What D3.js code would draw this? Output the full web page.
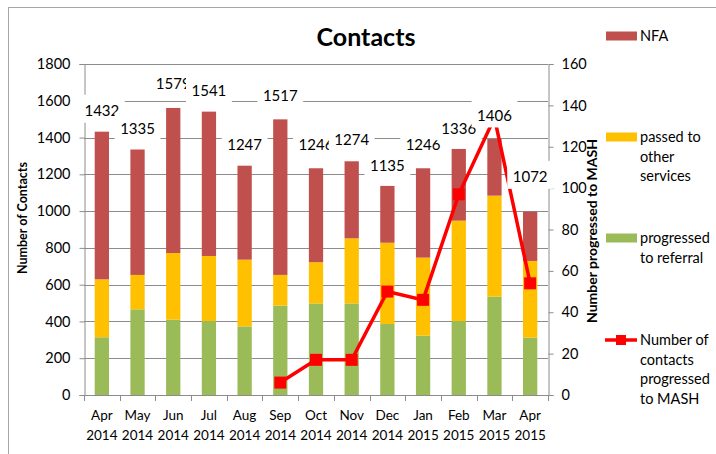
<!DOCTYPE html>
<html>
<head>
<meta charset="utf-8">
<script src="https://cdn.jsdelivr.net/npm/d3@7"></script>
<style>
  body { margin: 0; background: #fff; }
  text { font-family: Lato, "Open Sans", sans-serif; fill: #000; }
</style>
</head>
<body>
<div id="chart"></div>
<script>
// data
let months = ["Apr 2014", "May 2014", "Jun 2014", "Jul 2014", "Aug 2014", "Sep 2014", "Oct 2014",
              "Nov 2014", "Dec 2014", "Jan 2015", "Feb 2015", "Mar 2015", "Apr 2015"];
let referral = [314, 466, 410, 402, 373, 486, 498, 498, 386, 323, 402, 535, 312];
let other_services = [315, 187, 362, 354, 363, 167, 224, 354, 442, 424, 546, 549, 417];
let nfa = [803, 682, 789, 785, 511, 846, 511, 419, 309, 486, 390, 308, 268];
let totals = [1432, 1335, 1579, 1541, 1247, 1517, 1246, 1274, 1135, 1246, 1336, 1406, 1072];
let mash = [null, null, null, null, null, 6, 17, 17, 50, 46, 97, 134, 54];
let left_ticks = [0, 200, 400, 600, 800, 1000, 1200, 1400, 1600, 1800];
let right_ticks = [0, 20, 40, 60, 80, 100, 120, 140, 160];

let keys = ["referral", "other", "nfa"];
let colors = {referral: "#9BBB59", other: "#FFC000", nfa: "#C0504D"};
let rows = months.map((m, i) => ({month: m, referral: referral[i], other: other_services[i], nfa: nfa[i]}));

let svg = d3.select("#chart").append("svg").attr("width", 716).attr("height", 454);

// chart border
svg.append("rect").attr("x", 8.5).attr("y", 7.5).attr("width", 720).attr("height", 460)
  .style("fill", "none").style("stroke", "#a6a6a6");

let x = d3.scaleBand().domain(months).range([84, 548]).paddingInner(0.6).paddingOuter(0.3);
let y = d3.scaleLinear().domain([0, 1800]).range([395, 64]);
let y2 = d3.scaleLinear().domain([0, 160]).range([395, 64]);

// gridlines
svg.append("g").selectAll("line").data(left_ticks.slice(1)).join("line")
  .attr("x1", 84).attr("x2", 548)
  .attr("y1", d => Math.round(y(d)) + 0.5).attr("y2", d => Math.round(y(d)) + 0.5)
  .style("stroke", "#8c8c8c");

// stacked bars
let stack = d3.stack().keys(keys)(rows);
svg.append("g").selectAll("g").data(stack).join("g")
  .style("fill", d => colors[d.key])
  .selectAll("rect").data(d => d).join("rect")
  .attr("x", d => x(d.data.month))
  .attr("width", x.bandwidth())
  .attr("y", d => y(d[1]))
  .attr("height", d => y(d[0]) - y(d[1]));

// axes
let left_axis = d3.axisLeft(y).tickValues(left_ticks).tickFormat(d3.format("d")).tickSize(5).tickPadding(9);
let gl = svg.append("g").attr("transform", "translate(84.5,0)").call(left_axis);
let right_axis = d3.axisRight(y2).tickValues(right_ticks).tickFormat(d3.format("d")).tickSize(5).tickPadding(8);
let gr = svg.append("g").attr("transform", "translate(548.5,0)").call(right_axis);
let bottom_axis = d3.axisBottom(x).tickSize(0).tickFormat("");
let gb = svg.append("g").attr("transform", "translate(0,395.5)").call(bottom_axis);
[gl, gr, gb].forEach(g => {
  g.select(".domain").style("stroke", "#8c8c8c");
  g.selectAll(".tick line").style("stroke", "#8c8c8c");
  g.selectAll("text").style("font-size", "14.5px").style("font-family", "Lato");
});
gb.select(".domain").attr("d", "M84,0H548");

// category tick marks between bars
let step = x.step();
svg.append("g").selectAll("line").data(d3.range(months.length + 1)).join("line")
  .attr("x1", i => Math.round(84 + i * step) + 0.5).attr("x2", i => Math.round(84 + i * step) + 0.5)
  .attr("y1", 395).attr("y2", 401)
  .style("stroke", "#8c8c8c");

// category labels, two lines
let cat = svg.append("g").selectAll("text").data(months).join("text")
  .attr("x", d => x(d) + x.bandwidth() / 2)
  .attr("text-anchor", "middle")
  .style("font-size", "13.5px");
cat.append("tspan").attr("x", d => x(d) + x.bandwidth() / 2).attr("y", 420).text(d => d.split(" ")[0]);
cat.append("tspan").attr("x", d => x(d) + x.bandwidth() / 2).attr("y", 440).text(d => d.split(" ")[1]);

// MASH line
let line = d3.line()
  .defined(d => d[1] != null)
  .x(d => x(d[0]) + x.bandwidth() / 2)
  .y(d => y2(d[1]));
let pts = months.map((m, i) => [m, mash[i]]);
svg.append("path").datum(pts)
  .style("fill", "none").style("stroke", "#FF0000").style("stroke-width", 3.5)
  .attr("d", line);
svg.append("g").selectAll("rect").data(pts.filter(d => d[1] != null)).join("rect")
  .attr("x", d => x(d[0]) + x.bandwidth() / 2 - 6)
  .attr("y", d => y2(d[1]) - 6)
  .attr("width", 12).attr("height", 12)
  .style("fill", "#FF0000");

// total labels with white boxes, drawn in order so later ones overlap
let labels = svg.append("g");
totals.forEach((t, i) => {
  let cx = x(months[i]) + x.bandwidth() / 2;
  let cy = y(t) - 21;
  let g = labels.append("g");
  let r = g.append("rect").style("fill", "#fff");
  let txt = g.append("text").attr("x", cx).attr("y", cy + 5.5)
    .attr("text-anchor", "middle").style("font-size", "15px").text(t);
  let w = txt.node().getComputedTextLength() + 11;
  r.attr("x", cx - w / 2).attr("y", cy - 16).attr("width", w).attr("height", 28);
});

// titles
svg.append("text").attr("x", 366).attr("y", 46).attr("text-anchor", "middle")
  .style("font-size", "25px").style("font-weight", "bold").text("Contacts");
svg.append("text").attr("transform", "translate(27,218) rotate(-90)").attr("text-anchor", "middle")
  .style("font-size", "12.5px").style("font-weight", "bold").text("Number of Contacts");
svg.append("text").attr("transform", "translate(597,231) rotate(-90)").attr("text-anchor", "middle")
  .style("font-size", "14px").style("font-weight", "bold").text("Number progressed to MASH");

// legend
let legend = [
  {key: "nfa", lines: ["NFA"], y: 36},
  {key: "other", lines: ["passed to", "other", "services"], y: 137},
  {key: "referral", lines: ["progressed", "to referral"], y: 238},
  {key: "mash", lines: ["Number of", "contacts", "progressed", "to MASH"], y: 340}
];
let lg = svg.append("g");
legend.forEach(l => {
  if (l.key == "mash") {
    lg.append("line").attr("x1", 605).attr("x2", 637).attr("y1", l.y).attr("y2", l.y)
      .style("stroke", "#FF0000").style("stroke-width", 3.5);
    lg.append("rect").attr("x", 616).attr("y", l.y - 5).attr("width", 10).attr("height", 10)
      .style("fill", "#FF0000");
  } else {
    lg.append("rect").attr("x", 606).attr("y", l.y - 4.5).attr("width", 31).attr("height", 9)
      .style("fill", colors[l.key]);
  }
  let t = lg.append("text").style("font-size", "14.5px");
  l.lines.forEach((s, j) => {
    t.append("tspan").attr("x", 640).attr("y", l.y + 5 + j * 19.7).text(s);
  });
});
</script>
</body>
</html>
